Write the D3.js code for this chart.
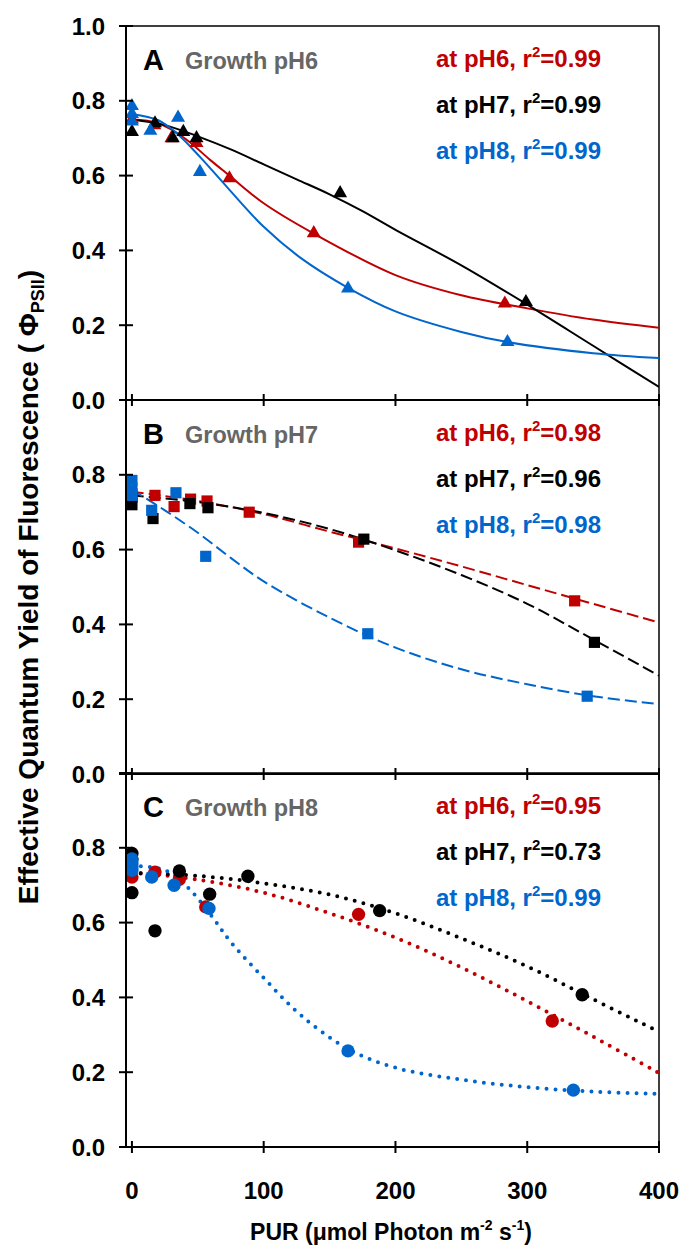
<!DOCTYPE html>
<html>
<head>
<meta charset="utf-8">
<script src="https://cdnjs.cloudflare.com/ajax/libs/d3/7.8.5/d3.min.js"></script>
<style>
  body { margin: 0; background: #fff; }
  text { font-family: "Liberation Sans", Arial, sans-serif; font-weight: bold; }
</style>
</head>
<body>
<svg id="chart" width="685" height="1247"></svg>
<script>
// ---- data ----
const panelLetters = ["A", "B", "C"];
const growthLabels = ["Growth pH6", "Growth pH7", "Growth pH8"];
const measuredAt = ["at pH6", "at pH7", "at pH8"];
const r2Values = [["0.99", "0.99", "0.99"], ["0.98", "0.96", "0.98"], ["0.95", "0.73", "0.99"]];
const xTicks = [0, 100, 200, 300, 400];
const yTicks = [0, 0.2, 0.4, 0.6, 0.8, 1.0];

// panel A (growth pH6), triangles + solid fits
const aPH6 = [[0, 0.75], [17, 0.735], [30, 0.70], [49, 0.687], [74, 0.593], [138, 0.446], [283, 0.258]];
const aPH7 = [[0, 0.717], [17.5, 0.74], [31, 0.70], [39, 0.717], [49, 0.70], [158, 0.553], [299, 0.262]];
const aPH8 = [[0, 0.786], [0, 0.765], [0, 0.745], [14, 0.72], [35, 0.755], [51.6, 0.61], [164, 0.298], [285, 0.155]];
const aFitPH6 = [[0, 0.75], [20, 0.74], [40, 0.70], [60, 0.64], [74, 0.60], [100, 0.526], [138, 0.445], [200, 0.334], [250, 0.28], [300, 0.245], [350, 0.215], [400, 0.193]];
const aFitPH7 = [[0, 0.75], [25, 0.735], [50, 0.705], [75, 0.67], [100, 0.63], [125, 0.59], [150, 0.55], [175, 0.505], [200, 0.455], [250, 0.36], [300, 0.255], [350, 0.145], [400, 0.035]];
const aFitPH8 = [[0, 0.765], [20, 0.748], [35, 0.71], [51.6, 0.65], [72, 0.57], [100, 0.463], [128, 0.38], [164, 0.30], [200, 0.237], [250, 0.182], [285, 0.155], [350, 0.125], [400, 0.112]];

// panel B (growth pH7), squares + dashed fits
const bPH6 = [[0, 0.75], [17.5, 0.745], [32, 0.715], [44.5, 0.735], [57, 0.73], [89, 0.70], [172, 0.62], [336, 0.463]];
const bPH7 = [[0, 0.72], [0, 0.74], [16, 0.683], [44, 0.723], [57.7, 0.712], [176, 0.628], [351, 0.352]];
const bPH8 = [[0, 0.785], [0, 0.765], [0, 0.745], [15, 0.705], [33.4, 0.752], [56, 0.582], [179, 0.375], [345.5, 0.208]];
const bFitPH6 = [[0, 0.755], [50, 0.73], [100, 0.695], [150, 0.648], [200, 0.603], [250, 0.555], [300, 0.505], [350, 0.455], [400, 0.405]];
const bFitPH7 = [[0, 0.745], [50, 0.727], [100, 0.698], [150, 0.655], [200, 0.598], [250, 0.532], [300, 0.455], [350, 0.36], [400, 0.263]];
const bFitPH8 = [[0, 0.76], [25, 0.705], [50, 0.645], [75, 0.578], [100, 0.515], [150, 0.418], [200, 0.338], [250, 0.28], [300, 0.24], [350, 0.208], [400, 0.187]];

// panel C (growth pH8), circles + dotted fits
const cPH6 = [[0, 0.722], [17.5, 0.735], [36, 0.716], [56, 0.642], [172, 0.622], [319, 0.337]];
const cPH7 = [[0, 0.785], [0, 0.77], [0, 0.68], [17.5, 0.578], [36, 0.738], [59, 0.676], [88, 0.724], [188, 0.632], [341.7, 0.407]];
const cPH8 = [[0, 0.77], [0, 0.76], [0, 0.75], [0, 0.74], [15, 0.722], [32, 0.70], [58.5, 0.638], [164, 0.257], [335, 0.152]];
const cFitPH6 = [[0, 0.735], [50, 0.715], [100, 0.68], [150, 0.625], [200, 0.56], [250, 0.48], [300, 0.39], [350, 0.295], [400, 0.198]];
const cFitPH7 = [[0, 0.732], [50, 0.725], [100, 0.705], [150, 0.675], [200, 0.625], [250, 0.558], [300, 0.483], [350, 0.395], [400, 0.308]];
const cFitPH8 = [[0, 0.752], [25, 0.74], [43, 0.692], [60, 0.62], [75, 0.548], [100, 0.452], [128, 0.353], [164, 0.262], [200, 0.212], [250, 0.18], [300, 0.16], [350, 0.148], [400, 0.142]];

const panelPoints = [[aPH6, aPH7, aPH8], [bPH6, bPH7, bPH8], [cPH6, cPH7, cPH8]];
const panelFits = [[aFitPH6, aFitPH7, aFitPH8], [bFitPH6, bFitPH7, bFitPH8], [cFitPH6, cFitPH7, cFitPH8]];

// ---- layout / style ----
const colors = ["#C00000", "#000000", "#0066CC"];
const left = 126, right = 659, panelH = 374;
const panelTops = [26, 400, 773];

const svg = d3.select("#chart");
const x = d3.scaleLinear().domain([-4.5, 400]).range([left, right]);

svg.append("defs").append("clipPath").attr("id", "plotClip")
  .append("rect").attr("x", left).attr("y", 0).attr("width", right - left).attr("height", 1247);

panelTops.forEach((top, p) => {
  const y = d3.scaleLinear().domain([0, 1]).range([top + panelH, top]);
  const g = svg.append("g");

  // frame
  g.append("rect")
    .attr("x", left).attr("y", top).attr("width", right - left).attr("height", panelH)
    .attr("fill", "none").attr("stroke", "#000").attr("stroke-width", 1.5);

  // fits
  const line = d3.line().x(d => x(d[0])).y(d => y(d[1])).curve(d3.curveCatmullRom.alpha(0.5));
  const fitG = g.append("g").attr("clip-path", "url(#plotClip)");
  panelFits[p].forEach((fit, i) => {
    const path = fitG.append("path")
      .datum(fit)
      .attr("d", line)
      .attr("fill", "none")
      .attr("stroke", colors[i]);
    if (p === 0) path.attr("stroke-width", 2);
    if (p === 1) path.attr("stroke-width", 2).attr("stroke-dasharray", "12,5");
    if (p === 2) path.attr("stroke-width", 4).attr("stroke-dasharray", "0,9").attr("stroke-linecap", "round");
  });

  // markers
  const shape = [d3.symbolTriangle, d3.symbolSquare, d3.symbolCircle][p];
  const size = [85, 125, 140][p];
  panelPoints[p].forEach((pts, i) => {
    g.append("g").selectAll("path")
      .data(pts)
      .join("path")
      .attr("d", d3.symbol(shape, size))
      .attr("transform", d => `translate(${x(d[0])},${y(d[1])})`)
      .attr("fill", colors[i]);
  });

  // axes
  g.append("line").attr("x1", left).attr("x2", left).attr("y1", top).attr("y2", top + panelH)
    .attr("stroke", "#000").attr("stroke-width", 2);
  g.append("line").attr("x1", left - 7).attr("x2", right).attr("y1", top + panelH).attr("y2", top + panelH)
    .attr("stroke", "#000").attr("stroke-width", 2);

  g.selectAll(".xt").data(xTicks).join("line")
    .attr("x1", d => x(d)).attr("x2", d => x(d))
    .attr("y1", top + panelH - 6).attr("y2", top + panelH + 6)
    .attr("stroke", "#000").attr("stroke-width", 2);

  g.selectAll(".yt").data(yTicks).join("line")
    .attr("x1", left - 7).attr("x2", left + 7)
    .attr("y1", d => y(d)).attr("y2", d => y(d))
    .attr("stroke", "#000").attr("stroke-width", 2);

  g.selectAll(".yl").data(p === 0 ? yTicks : yTicks.slice(0, 5)).join("text")
    .attr("x", 105).attr("y", d => y(d)).attr("dy", "0.36em")
    .attr("text-anchor", "end").attr("font-size", 24)
    .text(d => d.toFixed(1));

  // panel label
  g.append("text").attr("x", 143).attr("y", top + 44).attr("font-size", 29).text(panelLetters[p]);
  g.append("text").attr("x", 185).attr("y", top + 43).attr("font-size", 23.5).attr("fill", "#666666")
    .text(growthLabels[p]);

  // legend
  [41, 87, 133].forEach((off, i) => {
    const t = g.append("text").attr("x", 601).attr("y", top + off)
      .attr("text-anchor", "end").attr("font-size", 24).attr("fill", colors[i]);
    t.append("tspan").text(measuredAt[i] + ", r");
    t.append("tspan").attr("font-size", 15).attr("dy", -10).text("2");
    t.append("tspan").attr("dy", 10).text("=" + r2Values[p][i]);
  });
});

// x tick labels under the last panel
const bottom = panelTops[2] + panelH;
svg.append("g").selectAll("text").data(xTicks).join("text")
  .attr("x", d => x(d)).attr("y", bottom + 52)
  .attr("text-anchor", "middle").attr("font-size", 24)
  .text(d => d);

// axis titles
const xt = svg.append("text").attr("x", 391).attr("y", 1240).attr("text-anchor", "middle").attr("font-size", 23);
xt.append("tspan").text("PUR (μmol Photon m");
xt.append("tspan").attr("font-size", 14).attr("dy", -10).text("-2");
xt.append("tspan").attr("dy", 10).text(" s");
xt.append("tspan").attr("font-size", 14).attr("dy", -10).text("-1");
xt.append("tspan").attr("dy", 10).text(")");

const yt = svg.append("text").attr("transform", "translate(38,587) rotate(-90)")
  .attr("text-anchor", "middle").attr("font-size", 28);
yt.append("tspan").text("Effective Quantum Yield of Fluorescence ( Φ");
yt.append("tspan").attr("font-size", 18).attr("dy", 6).text("PSII");
yt.append("tspan").attr("dy", -6).text(")");
</script>
</body>
</html>
